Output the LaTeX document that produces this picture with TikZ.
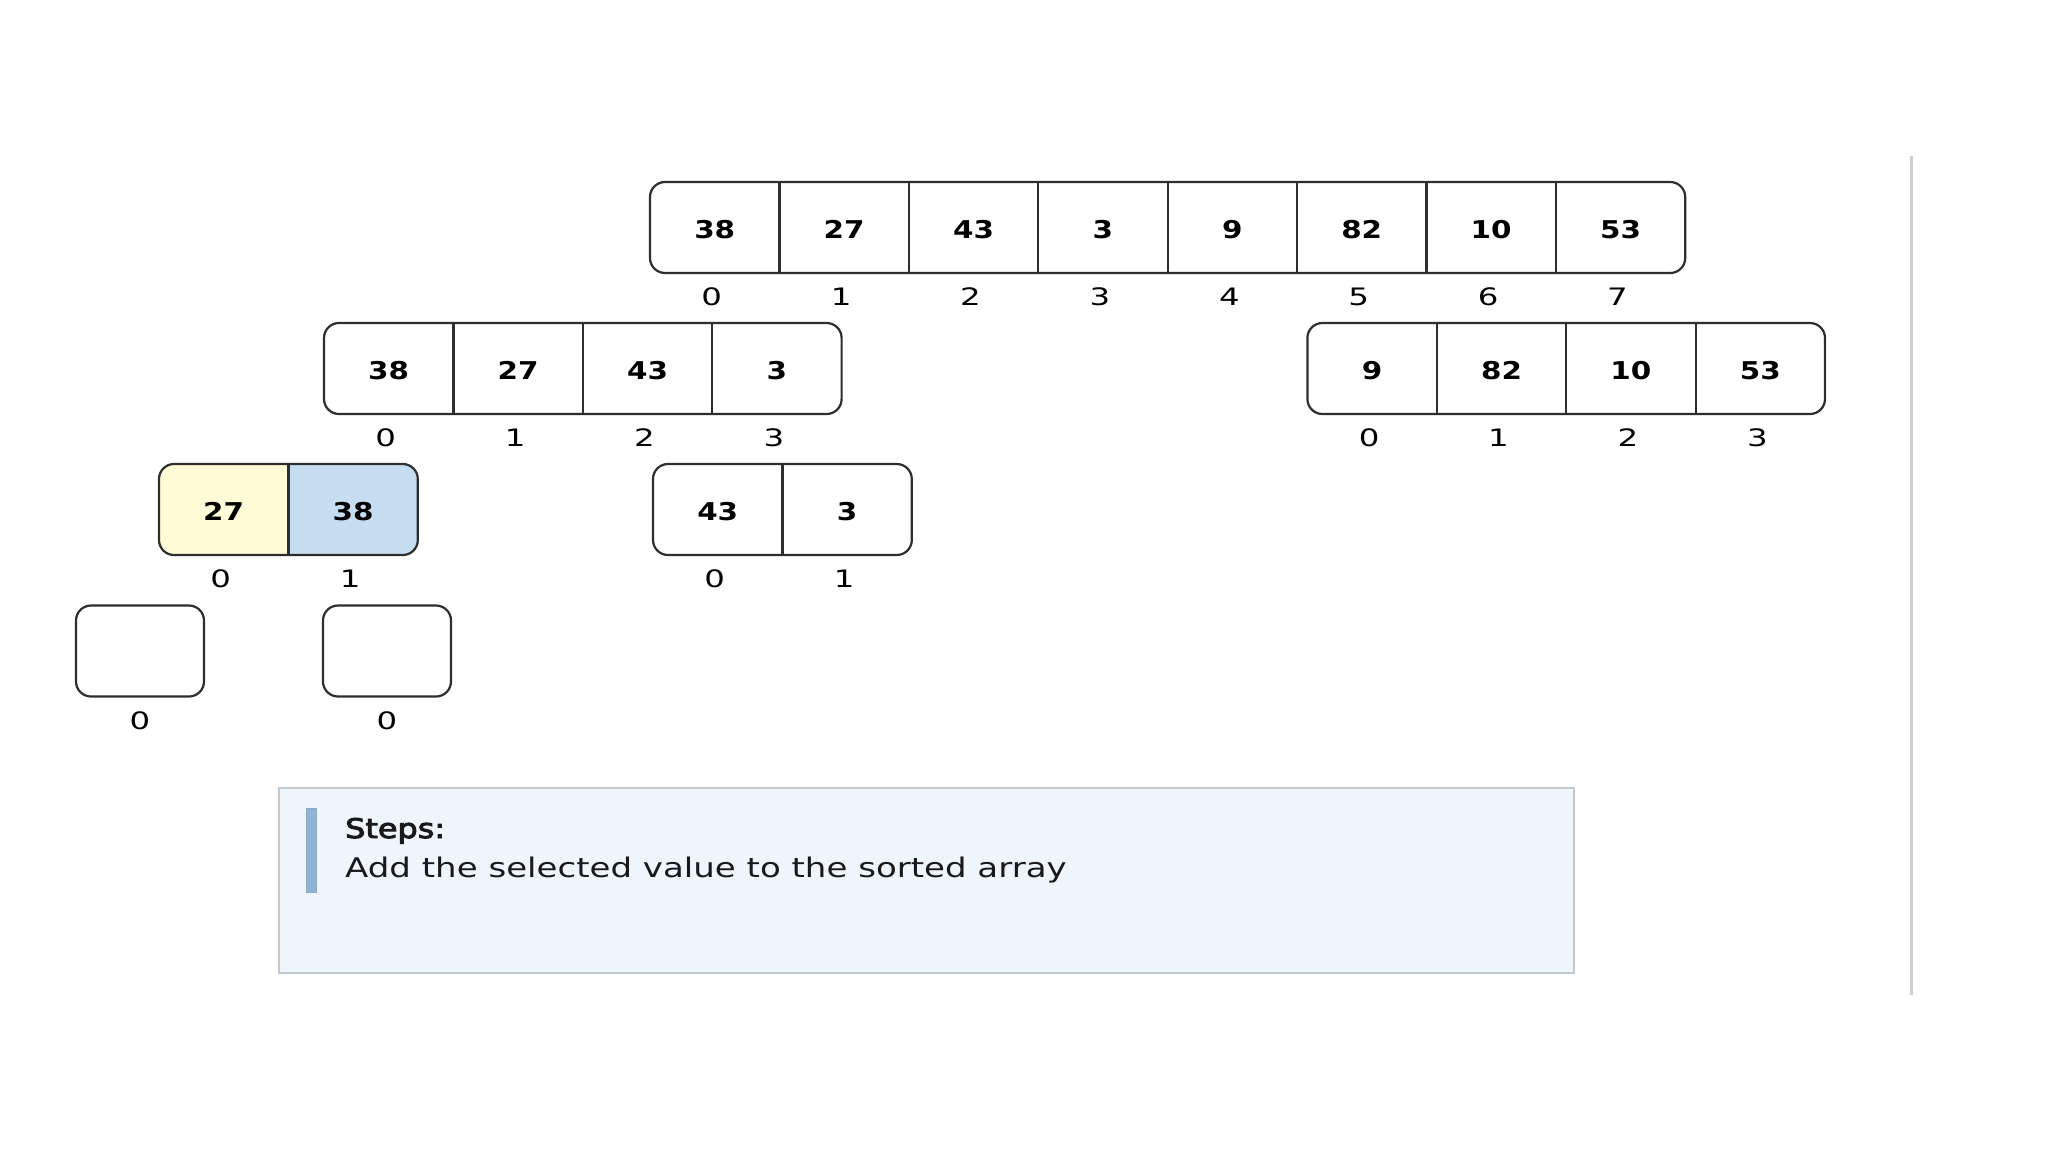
\documentclass[tikz,border=0pt]{standalone}
\usepackage{fontspec}
\setmainfont{DejaVu Sans}
\newfontfamily\cellfont{DejaVu Sans}[FakeStretch=1.2]
\newfontfamily\idxfont{DejaVu Sans}[FakeStretch=1.35]
\newfontfamily\txtfont{DejaVu Sans}[FakeStretch=1.26]
\newfontfamily\titlefont{DejaVu Sans}[FakeStretch=1.18,FakeBold=3.5]
\definecolor{edgecol}{HTML}{2E2E2E}
\definecolor{cellyellow}{HTML}{FEFCD6}
\definecolor{cellblue}{HTML}{C6DDF1}
\definecolor{stepsfill}{HTML}{EEF5FB}
\definecolor{stepsedge}{HTML}{C3C8CC}
\definecolor{barcol}{HTML}{8FB3D4}
\definecolor{sidecol}{HTML}{CFCFCF}
\tikzset{
  cellnum/.style={anchor=base, inner sep=0pt, font=\cellfont\bfseries\fontsize{24.5}{28}\selectfont, text=black},
  idxnum/.style={anchor=base, inner sep=0pt, font=\idxfont\fontsize{24}{28}\selectfont, text=black},
  outline/.style={draw=edgecol, line width=2.2pt, rounded corners=15pt},
  divider/.style={draw=edgecol, line width=2.2pt},
  emptybox/.style={draw=edgecol, line width=2.2pt, rounded corners=15pt, minimum width=128pt, minimum height=91pt, inner sep=0pt},
  stepsbox/.style={draw=stepsedge, line width=2pt, fill=stepsfill, minimum width=1295pt, minimum height=185pt, inner sep=0pt},
  stepsbar/.style={fill=barcol, draw=barcol!80!gray, line width=0.8pt, minimum width=10pt, minimum height=84pt, inner sep=0pt},
  stepstext/.style={anchor=base west, inner sep=0pt, font=\txtfont\fontsize{27}{32}\selectfont, text=black!90},
  sideline/.style={draw=sidecol, line width=3pt},
}
% #1 name, #2 x0, #3 top, #4 count, #5 values
\newcommand{\arrayrow}[5]{%
  \foreach \v [count=\i from 0] in {#5} {
    \node[cellnum] (#1v\i) at ({#2+129.4*(\i+0.5)},{#3+56}) {\v};
    \node[idxnum] (#1i\i) at ({#2+129.4*(\i+0.5)-3},{#3+123}) {\i};
  }
  \draw[outline] (#2,#3) rectangle ({#2+129.4*#4},{#3+91});
  \pgfmathtruncatemacro\lastdiv{#4-1}
  \foreach \k in {1,...,\lastdiv} {
    \draw[divider] ({#2+129.4*\k},#3) -- ({#2+129.4*\k},{#3+91});
  }
}
\begin{document}
\begin{tikzpicture}[x=1pt,y=-1pt]
\useasboundingbox (0,0) rectangle (2048,1152);
\fill[white] (0,0) rectangle (2048,1152);

% level 0
\arrayrow{top}{650}{182}{8}{38,27,43,3,9,82,10,53}
% level 1
\arrayrow{la}{324}{323}{4}{38,27,43,3}
\arrayrow{ra}{1307.4}{323}{4}{9,82,10,53}
% level 2
\begin{scope}
  \clip[rounded corners=15pt] (159,464) rectangle (417.8,555);
  \fill[cellyellow] (159,464) rectangle (288.4,555);
  \fill[cellblue] (288.4,464) rectangle (417.8,555);
\end{scope}
\arrayrow{lla}{159}{464}{2}{27,38}
\arrayrow{lra}{653}{464}{2}{43,3}
% level 3
\node[emptybox] (ea) at (140,651) {};
\node[idxnum] (eai) at (140,729) {0};
\node[emptybox] (eb) at (387,651) {};
\node[idxnum] (ebi) at (387,729) {0};

% steps panel
\node[stepsbox] (steps) at (926.5,880.5) {};
\node[stepsbar] (bar) at (311,850) {};
\node[stepstext, font=\titlefont\fontsize{27}{32}\selectfont] (stitle) at (345,838) {Steps:};
\node[stepstext] (sline) at (345,877) {Add the selected value to the sorted array};

% right separator
\coordinate (sideA) at (1911,156);
\coordinate (sideB) at (1911,995);
\draw[sideline] (sideA) -- (sideB);
\end{tikzpicture}
\end{document}
